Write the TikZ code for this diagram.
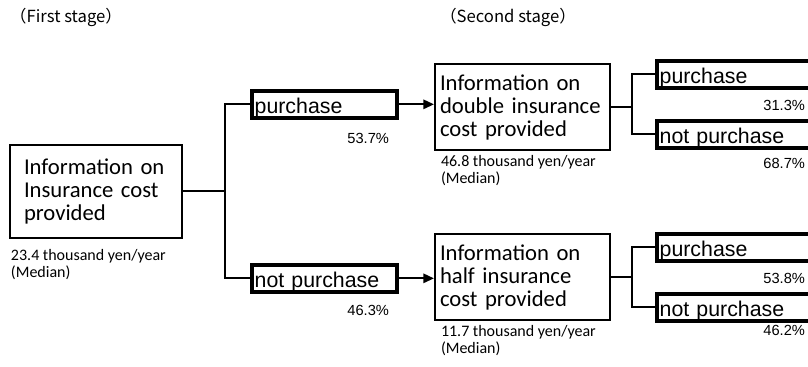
\documentclass[tikz,border=0pt]{standalone}
\usepackage{fontspec}
\setmainfont{Carlito}
\newfontfamily\gothic{Liberation Sans}
\newfontfamily\cjk{Noto Sans CJK JP}
\usetikzlibrary{arrows.meta}
\begin{document}
\begin{tikzpicture}[x=0.75pt,y=-0.75pt,line width=1.5pt,
  info/.style={draw,anchor=north west,align=left,inner ysep=0pt,
    font=\fontsize{17}{17.25}\selectfont},
  choice/.style={draw,line width=3pt,anchor=north west,align=left,
    inner xsep=2pt,inner ysep=0pt,text height=17pt,text depth=3pt,
    font=\gothic\fontsize{16}{16}\selectfont},
  pct/.style={anchor=east,inner sep=0pt,font=\gothic\fontsize{11}{11}\selectfont},
  median/.style={anchor=west,align=left,inner sep=0pt,
    font=\fontsize{12}{12.75}\selectfont},
  stage/.style={anchor=west,inner sep=0pt,font=\cjk\fontsize{12.5}{12.5}\selectfont},
  arr/.style={-{Triangle[length=8pt,width=7pt]}}]
\path[use as bounding box] (0,0) rectangle (808,367);
\clip (0,0) rectangle (808,367);
% stage titles
\node[stage] (st1) at (9,17) {（First stage）};
\node[stage] (st2) at (439,17) {（Second stage）};
% first stage
\node[info,inner xsep=10.5pt,text width=108pt,minimum height=69.75pt] (info1) at (9,144)
  {Information on\\Insurance cost\\provided};
\node[median] (med1) at (10,264.5) {23.4 thousand yen/year\\(Median)};
\node[choice,text width=104.75pt] (pur1) at (250,89) {purchase};
\node[choice,text width=104.75pt] (npur1) at (250,263) {not purchase};
\node[pct] (p1) at (390,138) {53.7\%};
\node[pct] (p2) at (390,310) {46.3\%};
\draw (info1.east) -- ++(42,0) coordinate (fork1);
\draw (pur1.west) -| (fork1) |- (npur1.west);
% second stage
\node[info,inner xsep=3.75pt,text width=123.75pt,minimum height=64.5pt] (info2) at (434,63)
  {Information on\\double insurance\\cost provided};
\node[info,inner xsep=3.75pt,text width=123.75pt,minimum height=64.5pt] (info3) at (434,233)
  {Information on\\half insurance\\cost provided};
\node[median] (med2) at (440,171) {46.8 thousand yen/year\\(Median)};
\node[median] (med3) at (440,341) {11.7 thousand yen/year\\(Median)};
\draw[arr] (pur1.east) -- (pur1.east -| info2.west);
\draw[arr] (npur1.east) -- (npur1.east -| info3.west);
\node[choice,text width=146pt] (pur2) at (655,59) {purchase};
\node[choice,text width=146pt] (npur2) at (655,119) {not purchase};
\node[choice,text width=146pt] (pur3) at (655,232) {purchase};
\node[choice,text width=146pt] (npur3) at (655,292) {not purchase};
\draw (info2.east) -- ++(21,0) coordinate (fork2);
\draw (pur2.west) -| (fork2) |- (npur2.west);
\draw (info3.east) -- ++(21,0) coordinate (fork3);
\draw (pur3.west) -| (fork3) |- (npur3.west);
\node[pct] (p3) at (806,105) {31.3\%};
\node[pct] (p4) at (806,163) {68.7\%};
\node[pct] (p5) at (806,278) {53.8\%};
\node[pct] (p6) at (806,330) {46.2\%};
\end{tikzpicture}
\end{document}
